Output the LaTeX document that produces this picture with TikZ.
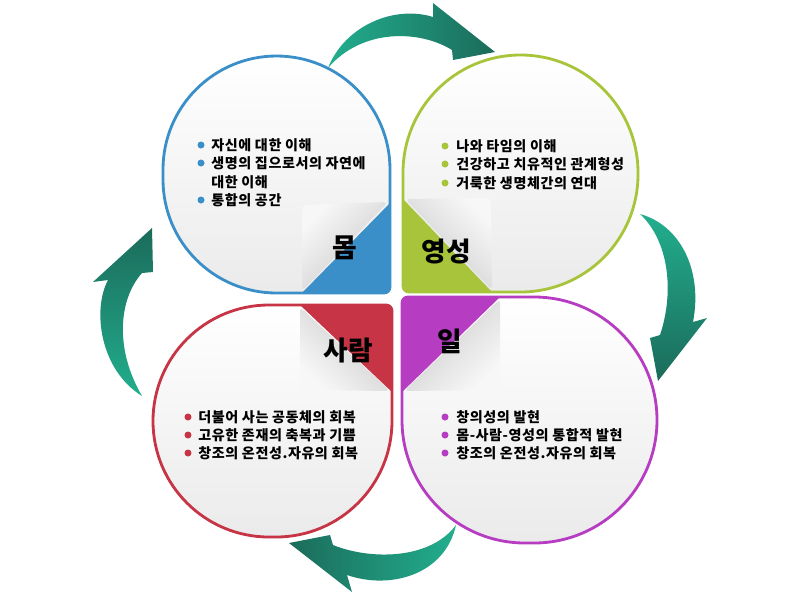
\documentclass[tikz,border=0pt]{standalone}
\usepackage{fontspec}
\setmainfont{Noto Sans CJK KR}
\definecolor{mombl}{HTML}{3A8FC8}
\definecolor{yeonggr}{HTML}{A8C43A}
\definecolor{saramrd}{HTML}{C63445}
\definecolor{ilpu}{HTML}{B63CC2}
\definecolor{tealL}{HTML}{22AE8E}
\definecolor{tealD}{HTML}{1B6B5A}
\tikzset{
    petal/.style={line width=2pt, top color=white, bottom color=black!8},
    fold/.style={top color=black!3, bottom color=black!22},
    item/.style={anchor=west, inner sep=0pt, font=\bfseries\fontsize{10}{12}\selectfont\addfontfeatures{LetterSpace=4}},
    title/.style={inner sep=0pt, font=\bfseries\fontsize{19}{22}\selectfont}
}
\begin{document}
\begin{tikzpicture}[x=0.025cm, y=-0.025cm]
    \useasboundingbox (0,0) rectangle (800,600);
    \shade[left color=tealL, right color=tealD] (328,68) .. controls (345,25) and (395,5) .. (433,17) -- (433,3) -- (495,52) -- (453,60) -- (452,50) .. controls (420,30) and (362,28) .. cycle;
    \shade[top color=tealL, bottom color=tealD] (640,214) .. controls (680,225) and (703,270) .. (693,322) -- (707,318) -- (658,381) -- (650,338) -- (660,335) .. controls (675,290) and (668,240) .. cycle;
    \shade[left color=tealD, right color=tealL] (456,525) .. controls (445,575) and (390,590) .. (347,575) -- (352,592) -- (289,543) -- (330,535) -- (333,545) .. controls (370,560) and (430,560) .. cycle;
    \shade[top color=tealD, bottom color=tealL] (142,396) .. controls (100,370) and (92,310) .. (108,280) -- (93,282) -- (152,228) -- (153,272) -- (142,273) .. controls (118,300) and (115,350) .. cycle;
    \shadedraw[petal, draw=mombl] (390,170) -- (390,287) arc[start angle=0, end angle=90, radius=6] -- (276.5,293) arc[start angle=90, end angle=180, radius=113.5] -- (163,169.5) arc[start angle=180, end angle=360, radius=113.5] -- cycle;
    \shadedraw[petal, draw=yeonggr] (403,172.5) -- (403,286) arc[start angle=180, end angle=90, radius=6] -- (520.5,292) arc[start angle=90, end angle=0, radius=117.5] -- (638,172.5) arc[start angle=0, end angle=-180, radius=117.5] -- cycle;
    \shadedraw[petal, draw=saramrd] (392,311) -- (392,421) arc[start angle=0, end angle=90, radius=116] -- (269,537) arc[start angle=90, end angle=270, radius=116] -- (386,305) arc[start angle=270, end angle=360, radius=6] -- cycle;
    \shadedraw[petal, draw=ilpu] (408,297) -- (534,297) arc[start angle=270, end angle=450, radius=123] -- (525,543) arc[start angle=90, end angle=180, radius=123] -- (402,303) arc[start angle=180, end angle=270, radius=6] -- cycle;
    \fill[mombl] (390,203) -- (390,287) arc[start angle=0, end angle=90, radius=6] -- (302,293) -- cycle;
    \shade[fold, shading angle=45, rounded corners=3] (302,291) -- (302,205) -- (388,202) -- cycle;
    \fill[yeonggr] (403,199) -- (403,286) arc[start angle=180, end angle=90, radius=6] -- (492,292) -- cycle;
    \shade[fold, shading angle=-45, rounded corners=3] (405,199) -- (491,198) -- (492,290) -- cycle;
    \fill[saramrd] (300,305) -- (386,305) arc[start angle=270, end angle=360, radius=6] -- (392,392) -- cycle;
    \shade[fold, shading angle=135, rounded corners=3] (300,307) -- (300,390) -- (390,391) -- cycle;
    \fill[ilpu] (402,392) -- (402,303) arc[start angle=180, end angle=270, radius=6] -- (500,297) -- cycle;
    \shade[fold, shading angle=-135, rounded corners=3] (500,299) -- (500,390) -- (404,391) -- cycle;
    \node[title] (mom) at (345,248) {몸};
    \node[title] (yeongseong) at (446,252) {영성};
    \node[title] (saram) at (348,350) {사람};
    \node[title] (il) at (450,341) {일};
    \fill[mombl] (201,145) circle (3.5);
    \node[item] (mom1) at (211,145) {자신에 대한 이해};
    \fill[mombl] (201,163) circle (3.5);
    \node[item] (mom2) at (211,163) {생명의 집으로서의 자연에};
    \node[item] (mom3) at (211,182) {대한 이해};
    \fill[mombl] (201,200) circle (3.5);
    \node[item] (mom4) at (211,200) {통합의 공간};
    \fill[yeonggr] (445,146) circle (3.5);
    \node[item] (yeong1) at (456,146) {나와 타임의 이해};
    \fill[yeonggr] (445,164) circle (3.5);
    \node[item] (yeong2) at (456,164) {건강하고 치유적인 관계형성};
    \fill[yeonggr] (445,183) circle (3.5);
    \node[item] (yeong3) at (456,183) {거룩한 생명체간의 연대};
    \fill[saramrd] (188,417) circle (3.5);
    \node[item] (saram1) at (198,417) {더불어 사는 공동체의 회복};
    \fill[saramrd] (188,435) circle (3.5);
    \node[item] (saram2) at (198,435) {고유한 존재의 축복과 기쁨};
    \fill[saramrd] (188,453) circle (3.5);
    \node[item] (saram3) at (198,453) {창조의 온전성.자유의 회복};
    \fill[ilpu] (445,417) circle (3.5);
    \node[item] (il1) at (456,417) {창의성의 발현};
    \fill[ilpu] (445,435) circle (3.5);
    \node[item] (il2) at (456,435) {몸-사람-영성의 통합적 발현};
    \fill[ilpu] (445,453) circle (3.5);
    \node[item] (il3) at (456,453) {창조의 온전성.자유의 회복};
\end{tikzpicture}
\end{document}
